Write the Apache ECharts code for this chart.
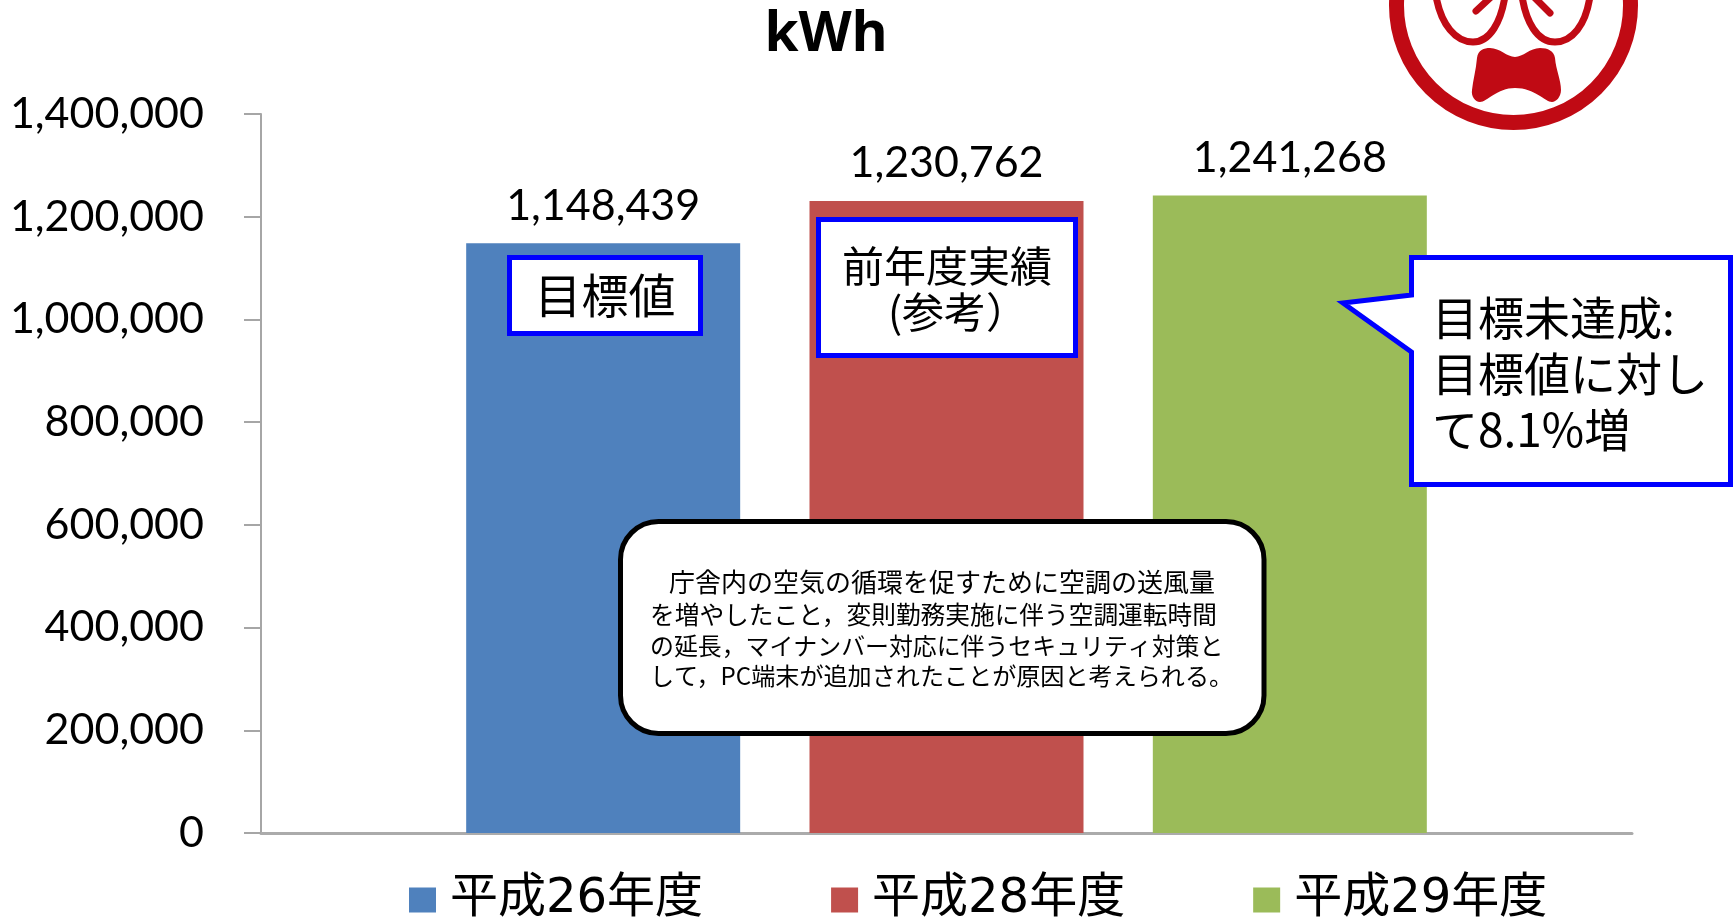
<!DOCTYPE html>
<html>
<head>
<meta charset="utf-8">
<style>html,body{margin:0;padding:0;background:#fff}#c{width:1733px;height:919px}</style>
<script src="https://cdn.jsdelivr.net/npm/echarts@6/dist/echarts.min.js"></script>
</head>
<body>
<div id="c"></div>
<script>
const titleText = 'kWh';
const categories = ['電力使用量'];
const seriesNames = ['平成26年度', '平成28年度', '平成29年度'];
const seriesColors = ['#4F81BD', '#C0504D', '#9BBB59'];
const values26 = [1148439];
const values28 = [1230762];
const values29 = [1241268];
const noteTarget = '目標値';
const notePreviousTop = '前年度実績';
const notePreviousBottom = '(参考）';
const noteResult = '目標未達成:\n目標値に対し\nて8.1%増';
const noteCauseLines = [
  '庁舎内の空気の循環を促すために空調の送風量',
  'を増やしたこと，変則勤務実施に伴う空調運転時間',
  'の延長，マイナンバー対応に伴うセキュリティ対策と',
  'して，PC端末が追加されたことが原因と考えられる。'
];

const JP = '"Noto Sans CJK JP"';
const LEGEND_FONT = '"DejaVu Sans","Noto Sans CJK JP"';
const NUM = 'Lato';
const BLUE = '#0000FF';
const LOGO = '#C00A14';

const allValues = [values26, values28, values29];
const chart = echarts.init(document.getElementById('c'), null, {renderer: 'canvas'});

function box(x, y, w, h, r, stroke) {
  return {type: 'rect', z: 100, shape: {x, y, width: w, height: h, r},
    style: {fill: '#fff', stroke, lineWidth: 5}};
}
function note(text, x, y, size, lineHeight, align) {
  return {type: 'text', z: 101, style: {text, x, y, fill: '#000', fontFamily: JP, fontSize: size,
    lineHeight, align: align || 'center', verticalAlign: 'middle'}};
}
let pathCount = 0;
function pathEl(d, style) {
  const name = 'annotationPath' + (pathCount++);
  echarts.graphic.registerShape(name, echarts.graphic.extendPath(d, {}));
  return {type: name, z: 100, style};
}
function logoStroke(d, w) {
  return pathEl(d, {fill: 'none', stroke: LOGO, lineWidth: w, lineCap: 'round'});
}

chart.setOption({
  animation: false,
  backgroundColor: '#fff',
  title: {text: titleText, left: 821, top: 3, textAlign: 'center',
    textStyle: {fontFamily: '"Noto Sans"', fontWeight: 'bold', fontSize: 55, color: '#000'}},
  grid: {left: 261, right: 101, top: 114, bottom: 86, containLabel: false},
  legend: {
    left: 409, top: 876, padding: 0, width: 1300, itemWidth: 27, itemHeight: 25, itemGap: 128, icon: 'rect',
    data: seriesNames,
    textStyle: {fontFamily: LEGEND_FONT, fontSize: 48, color: '#000', padding: [6, 0, 0, 9]}
  },
  xAxis: {type: 'category', data: categories,
    axisLine: {lineStyle: {color: '#ababab', width: 3}},
    axisTick: {show: false}, axisLabel: {show: false}},
  yAxis: {type: 'value', min: 0, max: 1400000, interval: 200000,
    axisLine: {show: true, lineStyle: {color: '#a6a6a6', width: 2}},
    axisTick: {show: true, length: 17, lineStyle: {color: '#a6a6a6', width: 2}},
    splitLine: {show: false},
    axisLabel: {margin: 57, fontFamily: NUM, fontSize: 43, color: '#000', padding: [4, 0, 0, 0],
      formatter: v => v.toLocaleString('en-US')}},
  series: seriesNames.map((name, i) => ({
    name, type: 'bar', data: allValues[i], barWidth: 274, barGap: '25.3%',
    itemStyle: {color: seriesColors[i]},
    label: {show: true, position: 'top', distance: 16, fontFamily: NUM, fontSize: 43, color: '#000',
      formatter: p => p.value.toLocaleString('en-US')}
  })),
  graphic: {elements: [
    box(509.5, 257.5, 191, 76, 0, BLUE),
    note(noteTarget, 605, 295, 47, 50),
    box(818.5, 219.5, 257, 136, 0, BLUE),
    note(notePreviousTop, 947, 266, 42, 48),
    note(notePreviousBottom, 958, 312, 42, 48),
    pathEl('M1411.5 257.5 L1730.5 257.5 L1730.5 484.5 L1411.5 484.5 L1411.5 352 L1343 303 L1411.5 295 Z',
      {fill: '#fff', stroke: BLUE, lineWidth: 5, lineJoin: 'miter'}),
    note(noteResult, 1432, 374, 46, 56, 'left'),
    box(620.5, 521.5, 643.5, 212, 38, '#000'),
    note(noteCauseLines[0], 669, 582, 26, 30, 'left'),
    note(noteCauseLines[1], 650, 615, 24.7, 30, 'left'),
    note(noteCauseLines[2], 650, 646, 23.9, 30, 'left'),
    note(noteCauseLines[3], 650, 676, 24.1, 30, 'left'),
    {type: 'circle', z: 100, shape: {cx: 1513.5, cy: 5.5, r: 117},
     style: {fill: '#fff', stroke: LOGO, lineWidth: 15}},
    logoStroke('M1436 -4 C1441 25,1456 42,1473 42 C1490 42,1501 22,1505 -4', 7),
    logoStroke('M1522 -4 C1526 22,1537 42,1555 42 C1572 42,1586 25,1590 -4', 7),
    logoStroke('M1476 11 L1490 -2', 7),
    logoStroke('M1550 13 L1535 -2', 7),
    pathEl('M1477 58 C1478 50,1484 48,1490 48 C1500 48,1507 57,1515 57 C1523 57,1530 48,1540 48 C1548 48,1554 51,1555 58 C1556 70,1561 80,1561 90 C1561 97,1556 102,1552 102 C1545 102,1535 88,1515 88 C1497 88,1487 102,1480 102 C1475 102,1471 96,1472 90 C1473 80,1476 70,1477 58 Z',
      {fill: LOGO})
  ]}
});
</script>
</body>
</html>
